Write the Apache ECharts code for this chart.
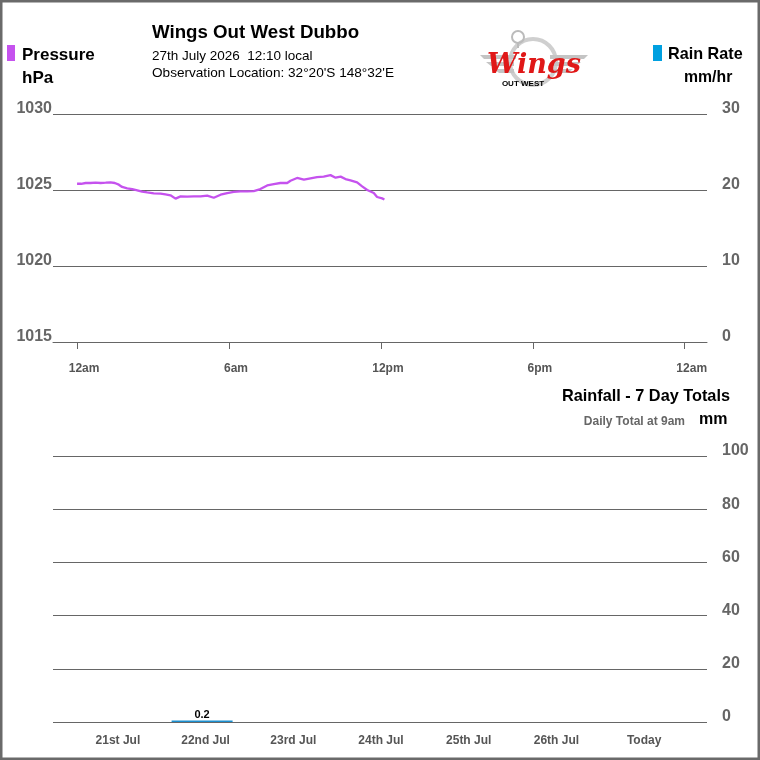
<!DOCTYPE html>
<html>
<head>
<meta charset="utf-8">
<script src="https://cdn.jsdelivr.net/npm/echarts@6/dist/echarts.min.js"></script>
<style>
html,body{margin:0;padding:0;background:#fff;}
#c{width:760px;height:760px;}
</style>
</head>
<body>
<div id="c"></div>
<script>
// ---- data ----
const pressureHours = [0.0,0.07,0.16,0.34,0.53,0.73,0.93,1.13,1.32,1.49,1.65,1.78,1.98,2.18,2.38,2.57,2.77,3.03,3.30,3.49,3.69,3.89,4.09,4.35,4.61,4.88,5.14,5.40,5.67,5.93,6.19,6.45,6.72,6.98,7.24,7.51,7.77,8.03,8.30,8.43,8.69,8.96,9.22,9.48,9.74,10.01,10.21,10.41,10.60,10.80,11.06,11.26,11.46,11.72,11.85,12.05,12.14];
const pressureValues = [1025.41,1025.28,1025.41,1025.46,1025.46,1025.48,1025.46,1025.48,1025.50,1025.46,1025.35,1025.20,1025.11,1025.06,1024.98,1024.89,1024.84,1024.78,1024.76,1024.71,1024.65,1024.43,1024.58,1024.56,1024.58,1024.58,1024.63,1024.49,1024.69,1024.80,1024.87,1024.91,1024.91,1024.93,1025.06,1025.30,1025.39,1025.46,1025.46,1025.61,1025.79,1025.68,1025.77,1025.85,1025.88,1025.98,1025.81,1025.88,1025.72,1025.63,1025.50,1025.24,1025.00,1024.80,1024.54,1024.45,1024.38];
const rainRateHours = [];
const rainRateValues = [];
const timeTickHours = [0, 6, 12, 18, 24];
const timeTickLabels = ['12am', '6am', '12pm', '6pm', '12am'];
const days = ['21st Jul', '22nd Jul', '23rd Jul', '24th Jul', '25th Jul', '26th Jul', 'Today'];
const rainfall = [0, 0.2, 0, 0, 0, 0, 0];

const chart = echarts.init(document.getElementById('c'), null, {renderer: 'canvas'});
const FONT = 'Liberation Sans, Arial, sans-serif';
const GRID = '#666666';
const LBL = '#666666';

const pressureData = pressureHours.map((h, i) => [h, pressureValues[i]]);
const rainRateData = rainRateHours.map((h, i) => [h, rainRateValues[i]]);
const rainData = rainfall.map((v, i) => [i, v > 0 ? v : null]);
const dayIdx = days.map((d, i) => i);

const valLabel = (margin) => ({
  margin: margin, verticalAlign: 'middle',
  formatter: v => '{v|' + v + '}',
  rich: {v: {color: LBL, fontSize: 16, fontWeight: 'bold', fontFamily: FONT, lineHeight: 18, padding: [0, 0, 10, 0]}}
});

const option = {
  animation: false,
  backgroundColor: '#fff',
  textStyle: {fontFamily: FONT},
  grid: [
    {left: 53, right: 53, top: 114, height: 228},
    {left: 53, right: 53, top: 456, height: 266}
  ],
  xAxis: [
    {
      gridIndex: 0, type: 'value', min: -0.95, max: 24.88,
      splitLine: {show: false},
      axisLine: {show: true, lineStyle: {color: GRID, width: 1}},
      axisTick: {show: true, customValues: timeTickHours, length: 7, lineStyle: {color: GRID}},
      axisLabel: {
        customValues: timeTickHours, margin: 21,
        formatter: v => timeTickLabels[timeTickHours.indexOf(Math.round(v))] || '',
        color: '#555', fontSize: 12, fontWeight: 'bold', fontFamily: FONT,
        padding: [0, 0, 0, 14]
      }
    },
    {
      gridIndex: 1, type: 'value', min: -0.70, max: 6.757,
      splitLine: {show: false},
      axisLine: {show: false},
      axisTick: {show: false},
      axisLabel: {
        customValues: dayIdx, margin: 13,
        formatter: v => days[Math.round(v)] || '',
        color: '#555', fontSize: 12, fontWeight: 'bold', fontFamily: FONT,
        padding: [0, 0, 0, 7]
      }
    }
  ],
  yAxis: [
    {
      gridIndex: 0, type: 'value', min: 1015, max: 1030, interval: 5, position: 'left',
      splitLine: {show: true, lineStyle: {color: GRID, width: 1}},
      axisLine: {show: false}, axisTick: {show: false},
      axisLabel: valLabel(1)
    },
    {
      gridIndex: 0, type: 'value', min: 0, max: 30, interval: 10, position: 'right',
      splitLine: {show: false},
      axisLine: {show: false}, axisTick: {show: false},
      axisLabel: valLabel(15)
    },
    {
      gridIndex: 1, type: 'value', min: 0, max: 100, interval: 20, position: 'right',
      splitLine: {show: true, lineStyle: {color: GRID, width: 1}},
      axisLine: {show: false}, axisTick: {show: false},
      axisLabel: valLabel(15)
    }
  ],
  series: [
    {
      name: 'Pressure', type: 'line', xAxisIndex: 0, yAxisIndex: 0,
      data: pressureData, showSymbol: false, symbol: 'none',
      lineStyle: {color: '#c552ee', width: 2.3}
    },
    {
      name: 'Rain Rate', type: 'line', xAxisIndex: 0, yAxisIndex: 1,
      data: rainRateData, showSymbol: false,
      lineStyle: {color: '#00a0e0', width: 2}
    },
    {
      name: 'Rainfall', type: 'bar', xAxisIndex: 1, yAxisIndex: 2,
      data: rainData, barWidth: 61, barMinHeight: 1.5,
      itemStyle: {color: '#1a8fd0'},
      label: {show: true, position: 'top', distance: 0, color: '#000', fontSize: 11, fontWeight: 'bold', fontFamily: FONT,
        formatter: p => p.value[1] == null ? '' : String(p.value[1])}
    }
  ],
  graphic: [
    // frame
    {type: 'rect', shape: {x: 0, y: 0, width: 760, height: 760}, style: {fill: 'none', stroke: '#6a6a6a', lineWidth: 5}, z: 100},
    // title block
    {type: 'text', x: 152, y: 33, style: {text: 'Wings Out West Dubbo', font: 'bold 18.7px ' + FONT, fill: '#000', textVerticalAlign: 'middle'}},
    {type: 'text', x: 152, y: 56, style: {text: '27th July 2026  12:10 local', font: '13.5px ' + FONT, fill: '#000', textVerticalAlign: 'middle'}},
    {type: 'text', x: 152, y: 73, style: {text: "Observation Location: 32°20'S 148°32'E", font: '13.6px ' + FONT, fill: '#000', textVerticalAlign: 'middle'}},
    // pressure legend
    {type: 'rect', shape: {x: 7, y: 45, width: 8, height: 16}, style: {fill: '#c552ee'}},
    {type: 'text', x: 22, y: 55, style: {text: 'Pressure', font: 'bold 17px ' + FONT, fill: '#000', textVerticalAlign: 'middle'}},
    {type: 'text', x: 22, y: 78, style: {text: 'hPa', font: 'bold 17px ' + FONT, fill: '#000', textVerticalAlign: 'middle'}},
    // rain rate legend
    {type: 'rect', shape: {x: 653, y: 45, width: 9, height: 16}, style: {fill: '#00a0e0'}},
    {type: 'text', x: 668, y: 55, style: {text: 'Rain Rate', font: 'bold 16.2px ' + FONT, fill: '#000', textVerticalAlign: 'middle'}},
    {type: 'text', x: 684, y: 78, style: {text: 'mm/hr', font: 'bold 15.8px ' + FONT, fill: '#000', textVerticalAlign: 'middle'}},
    // rainfall header
    {type: 'text', x: 730, y: 397, style: {text: 'Rainfall - 7 Day Totals', font: 'bold 16.3px ' + FONT, fill: '#000', textAlign: 'right', textVerticalAlign: 'middle'}},
    {type: 'text', x: 685, y: 422, style: {text: 'Daily Total at 9am', font: 'bold 12px ' + FONT, fill: '#666', textAlign: 'right', textVerticalAlign: 'middle'}},
    {type: 'text', x: 699, y: 420, style: {text: 'mm', font: 'bold 16px ' + FONT, fill: '#000', textVerticalAlign: 'middle'}},
    // logo (approximation)
    {type: 'group', children: [
      {type: 'circle', shape: {cx: 533, cy: 62, r: 23}, style: {fill: 'none', stroke: '#cfcfcf', lineWidth: 4}},
      {type: 'polygon', shape: {points: [[480,55],[516,55],[516,59],[484,59]]}, style: {fill: '#c4c4c4'}},
      {type: 'polygon', shape: {points: [[486,62],[514,62],[514,66],[491,66]]}, style: {fill: '#c4c4c4'}},
      {type: 'polygon', shape: {points: [[494,69],[514,69],[514,73],[499,73]]}, style: {fill: '#c4c4c4'}},
      {type: 'polygon', shape: {points: [[550,55],[588,55],[584,59],[550,59]]}, style: {fill: '#c4c4c4'}},
      {type: 'polygon', shape: {points: [[552,62],[581,62],[576,66],[552,66]]}, style: {fill: '#c4c4c4'}},
      {type: 'polygon', shape: {points: [[552,69],[573,69],[568,73],[552,73]]}, style: {fill: '#c4c4c4'}},
      {type: 'circle', shape: {cx: 518, cy: 37, r: 6}, style: {fill: 'none', stroke: '#bbb', lineWidth: 2}},
      {type: 'line', shape: {x1: 518, y1: 43, x2: 518, y2: 48}, style: {stroke: '#bbb', lineWidth: 2}},
      {type: 'text', x: 534, y: 66, style: {text: 'Wings', font: 'italic bold 27px DejaVu Serif, serif', fill: '#e01818', textAlign: 'center', textVerticalAlign: 'middle'}},
      {type: 'text', x: 523, y: 84, style: {text: 'OUT WEST', font: 'bold 8px ' + FONT, fill: '#000', textAlign: 'center', textVerticalAlign: 'middle'}}
    ]}
  ]
};
chart.setOption(option);
</script>
</body>
</html>
